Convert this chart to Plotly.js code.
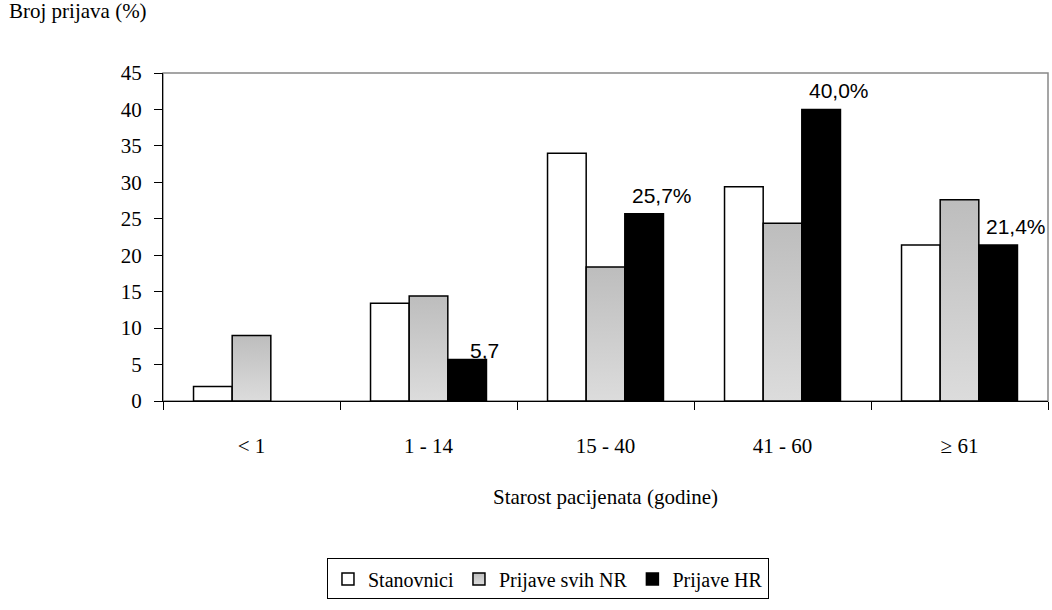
<!DOCTYPE html>
<html>
<head>
<meta charset="utf-8">
<script src="https://cdn.plot.ly/plotly-3.0.1.min.js"></script>
<style>html,body{margin:0;padding:0;background:#fff;}#chart{width:1052px;height:610px;}</style>
</head>
<body>
<div id="chart"></div>
<script>
const categories = ['< 1', '1 - 14', '15 - 40', '41 - 60', '≥ 61'];
const stanovnici = [2.0, 13.4, 34.0, 29.4, 21.4];
const prijaveSvihNR = [9.0, 14.4, 18.4, 24.4, 27.6];
const prijaveHR = [null, 5.7, 25.7, 40.0, 21.4];
const hrLabels = ['', '5,7', '25,7%', '40,0%', '21,4%'];
const seriesNames = ['Stanovnici', 'Prijave svih NR', 'Prijave HR'];
const yTicks = [0, 5, 10, 15, 20, 25, 30, 35, 40, 45];

// label placement offsets (pixels), style only
const labelYShift = [0, -5, 5, 5, 5];

const serif = "'Liberation Serif', 'Times New Roman', serif";
const sans = "'Liberation Sans', Arial, sans-serif";
const outline = {color: '#000', width: 1.5};

const traces = [
  {type: 'bar', name: seriesNames[0], x: categories, y: stanovnici,
   marker: {color: '#ffffff', line: outline}, hoverinfo: 'y'},
  {type: 'bar', name: seriesNames[1], x: categories, y: prijaveSvihNR,
   marker: {color: '#c9c9c9', line: outline}, hoverinfo: 'y'},
  {type: 'bar', name: seriesNames[2], x: categories, y: prijaveHR,
   marker: {color: '#000000', line: outline}, hoverinfo: 'y'}
];

// value labels on the "Prijave HR" bars, anchored at each bar's data value
const labelAnnotations = categories.map((c, i) => ({
  x: c, y: prijaveHR[i] == null ? 0 : prijaveHR[i], xref: 'x', yref: 'y',
  text: hrLabels[i], showarrow: false, xanchor: 'center', yanchor: 'bottom',
  xshift: 56, yshift: labelYShift[i],
  font: {family: sans, size: 21, color: '#000'}
})).filter(a => a.text !== '');

const layout = {
  width: 1052, height: 610,
  margin: {l: 163, r: 4, t: 73, b: 209},
  paper_bgcolor: '#fff', plot_bgcolor: '#fff',
  barmode: 'group', bargap: 0.345, bargroupgap: 0,
  showlegend: true,
  legend: {orientation: 'h', x: 0.435, xanchor: 'center', y: -0.48, yanchor: 'top',
           bordercolor: '#000', borderwidth: 1, bgcolor: '#fff',
           font: {family: serif, size: 20, color: '#000'}, itemwidth: 30, traceorder: 'normal'},
  xaxis: {
    type: 'category', tickson: 'boundaries', ticks: 'outside', ticklen: 8, tickcolor: '#000',
    showline: true, linecolor: '#000', linewidth: 1, showgrid: false, zeroline: false,
    tickfont: {family: serif, size: 21, color: '#000'}, ticklabelstandoff: 26,
    title: {text: 'Starost pacijenata (godine)', font: {family: serif, size: 21, color: '#000'}, standoff: 32}
  },
  yaxis: {
    range: [0, 45], tickvals: yTicks, ticks: 'outside', ticklen: 8, tickcolor: '#000',
    showline: true, linecolor: '#000', linewidth: 1, showgrid: false, zeroline: false,
    tickfont: {family: serif, size: 21, color: '#000'}, ticklabelstandoff: 8
  },
  shapes: [
    {type: 'rect', xref: 'paper', yref: 'paper', x0: 0, x1: 1, y0: 0, y1: 1,
     line: {color: '#888', width: 1.5}, layer: 'below'}
  ],
  annotations: [
    {text: 'Broj prijava (%)', xref: 'paper', yref: 'paper', x: -0.176, y: 1.19,
     xanchor: 'left', yanchor: 'middle', showarrow: false,
     font: {family: serif, size: 21, color: '#000'}}
  ].concat(labelAnnotations)
};

function applyGradient(gd) {
  const svg = gd.querySelector('svg.main-svg');
  if (!svg) return;
  const ns = 'http://www.w3.org/2000/svg';
  let defs = svg.querySelector('defs');
  if (!defs) { defs = document.createElementNS(ns, 'defs'); svg.insertBefore(defs, svg.firstChild); }
  const grad = document.createElementNS(ns, 'linearGradient');
  grad.setAttribute('id', 'grayBarGrad');
  grad.setAttribute('x1', '0'); grad.setAttribute('y1', '0');
  grad.setAttribute('x2', '0'); grad.setAttribute('y2', '1');
  [['0', '#bdbdbd'], ['1', '#dcdcdc']].forEach(([o, c]) => {
    const s = document.createElementNS(ns, 'stop');
    s.setAttribute('offset', o); s.setAttribute('stop-color', c);
    grad.appendChild(s);
  });
  defs.appendChild(grad);
  const barTraces = gd.querySelectorAll('.barlayer .trace');
  if (barTraces[1]) barTraces[1].querySelectorAll('path').forEach(p => { p.style.fill = 'url(#grayBarGrad)'; });
  const legTraces = gd.querySelectorAll('.legend .traces');
  if (legTraces[1]) legTraces[1].querySelectorAll('.legendpoints path').forEach(p => { p.style.fill = 'url(#grayBarGrad)'; });
}

Plotly.newPlot('chart', traces, layout, {staticPlot: true}).then(applyGradient);
</script>
</body>
</html>
